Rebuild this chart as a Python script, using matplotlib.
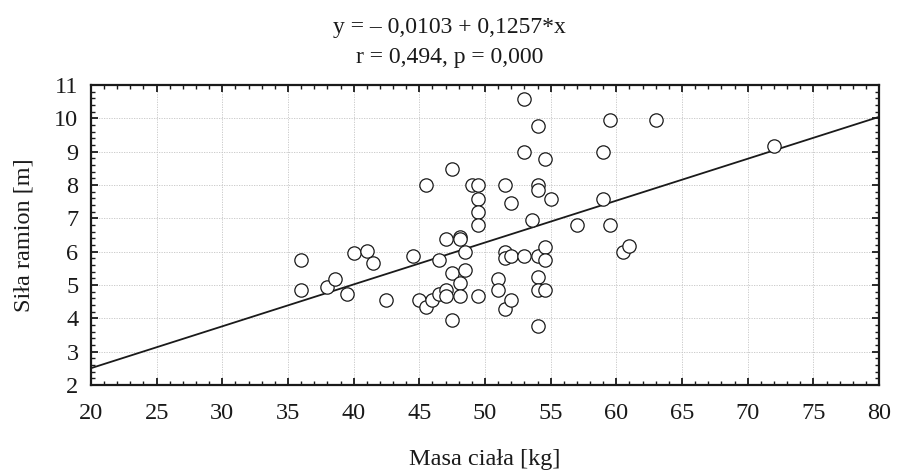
import matplotlib
matplotlib.use("Agg")
import matplotlib.pyplot as plt
import numpy as np
from matplotlib.ticker import MultipleLocator

plt.rcParams['font.family'] = ['Liberation Serif', 'DejaVu Serif']

masa = [36, 36, 38, 38.6, 39.5, 40, 41, 41.5, 42.5, 44.5,
        45, 45.5, 45.5, 46, 46.5, 46.5, 47, 47, 47, 47.5,
        47.5, 47.5, 48.1, 48.1, 48.1, 48.1, 48.5, 48.5, 49, 49.5,
        49.5, 49.5, 49.5, 49.5, 51, 51, 51.5, 51.5, 51.5, 51.5,
        52, 52, 52, 53, 53, 52.95, 53.6, 54, 54, 54,
        54, 54, 54, 54, 54.55, 54.55, 54.55, 54.6, 55, 57,
        59, 59, 59.5, 59.5, 60.5, 61, 63.05, 72]
sila = [5.75, 4.85, 4.95, 5.18, 4.73, 5.97, 6.03, 5.65, 4.56, 5.87,
        4.56, 4.33, 8.0, 4.56, 4.73, 5.76, 6.37, 4.85, 4.67, 3.95,
        5.36, 8.47, 6.43, 6.38, 5.07, 4.68, 6.0, 5.46, 8.0, 8.0,
        7.57, 7.18, 6.8, 4.68, 5.18, 4.85, 8.0, 5.98, 5.8, 4.28,
        5.88, 7.45, 4.56, 10.57, 9.0, 5.87, 6.95, 9.78, 8.0, 7.85,
        5.87, 5.25, 4.85, 3.77, 8.77, 6.15, 5.75, 4.85, 7.57, 6.8,
        9.0, 7.57, 9.95, 6.8, 6.0, 6.17, 9.95, 9.17]

intercept = -0.0103
slope = 0.1257
x_range = [20, 80]
y_range = [2, 11]

title_text = "y = – 0,0103 + 0,1257*x\nr = 0,494, p = 0,000"
xlabel = "Masa ciała [kg]"
ylabel = "Siła ramion [m]"

FS = 17.5

fig = plt.figure(figsize=(8.97, 4.70), dpi=100)
ax = fig.add_axes([0.1014, 0.1809, 0.8786, 0.6381])

ax.set_xlim(*x_range)
ax.set_ylim(*y_range)

lx = np.array(x_range, dtype=float)
ax.plot(lx, intercept + slope * lx, color='#1a1a1a', lw=1.3, zorder=3)
ax.scatter(masa, sila, s=92, facecolors='white', edgecolors='#1a1a1a',
           linewidths=0.9, zorder=4, clip_on=False)

ax.xaxis.set_major_locator(MultipleLocator(5))
ax.xaxis.set_minor_locator(MultipleLocator(1))
ax.yaxis.set_major_locator(MultipleLocator(1))
ax.yaxis.set_minor_locator(MultipleLocator(0.2))

ax.grid(True, which='major', color='#c4c4c4', linestyle=(0, (1.5, 1.5)), lw=0.6)
ax.set_axisbelow(True)

ax.tick_params(which='both', direction='in', top=True, right=True,
               colors='#1a1a1a', labelsize=FS, labelcolor='#1a1a1a')
ax.tick_params(which='major', length=5, width=1.3)
ax.tick_params(which='minor', length=3, width=1.0)
ax.tick_params(axis='x', which='major', pad=13)
ax.tick_params(axis='y', which='major', pad=9)
for sp in ax.spines.values():
    sp.set_linewidth(1.6)
    sp.set_color('#1a1a1a')

ax.set_xlabel(xlabel, fontsize=FS, labelpad=18, color='#1a1a1a')
ax.set_ylabel(ylabel, fontsize=FS, labelpad=14, color='#1a1a1a')

fig.text(0.5015, 0.9096, title_text, ha='center', va='center', fontsize=17,
         linespacing=1.55, color='#1a1a1a')

fig.savefig("out.png", dpi=100)
